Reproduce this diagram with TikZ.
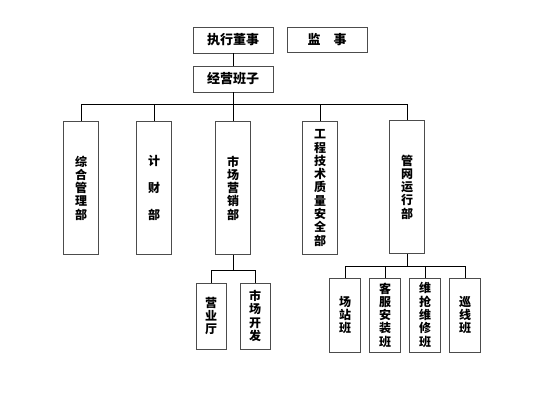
\documentclass[tikz,border=0pt]{standalone}
\usepackage{fontspec}
\newfontfamily\cjk{Noto Sans CJK SC}
\usetikzlibrary{positioning}

\begin{document}
\begin{tikzpicture}[x=1pt,y=1pt,line width=0.8pt,
   box/.style={draw=black!70,line width=0.9pt,inner sep=0pt,align=center,
     font=\cjk\bfseries\fontsize{12}{13.3}\selectfont},
   head/.style={box,minimum width=80pt,minimum height=26pt,
     font=\cjk\bfseries\fontsize{13}{15}\selectfont},
   dept/.style={box,minimum width=35pt,minimum height=133pt},
   team/.style={box,minimum width=30pt,minimum height=66pt},
   crew/.style={box,minimum width=31pt,minimum height=74pt}]
 \useasboundingbox (0,0) rectangle (554,406);
 % top level
 \node[head] (exec) at (233,366) {执行董事};
 \node[head,minimum height=25pt] (audit) at (327,366.5) {监\quad 事};
 \node[head] (mgmt) at (233,327) {经营班子};
 \coordinate (bus) at (233,302);
 % departments
 \node[dept] (admin) at (81,218) {综\\合\\管\\理\\部};
 \node[dept] (fin) at (154,218) {计\\[14pt]财\\[14pt]部};
 \node[dept] (mkt) at (233,218) {市\\场\\营\\销\\部};
 \node[dept] (eng) at (320,218) {工\\程\\技\\术\\质\\量\\安\\全\\部};
 \node[dept] (net) at (407,219) {管\\网\\运\\行\\部};
 % teams under market
 \coordinate (mbus) at (233,136);
 \node[team] (hall) at (211,90) {营\\业\\厅};
 \node[team] (dev) at (255,90) {市\\场\\开\\发};
 % teams under network
 \coordinate (nbus) at (407,140);
 \node[crew] (yard) at (345,91) {场\\站\\班};
 \node[crew] (inst) at (385,91) {客\\服\\安\\装\\班};
 \node[crew] (rep) at (425,91) {维\\抢\\维\\修\\班};
 \node[crew] (patrol) at (465,91) {巡\\线\\班};
 % connectors
 \draw (exec) -- (mgmt);
 \draw (mgmt) -- (bus);
 \draw (bus) -- (mkt);
 \foreach \d in {admin,fin,eng,net}
   \draw (bus) -| (\d);
 \draw (mkt) -- (mbus);
 \draw (mbus) -| (hall);
 \draw (mbus) -| (dev);
 \draw (net) -- (nbus);
 \foreach \t in {yard,inst,rep,patrol}
   \draw (nbus) -| (\t);
\end{tikzpicture}
\end{document}
